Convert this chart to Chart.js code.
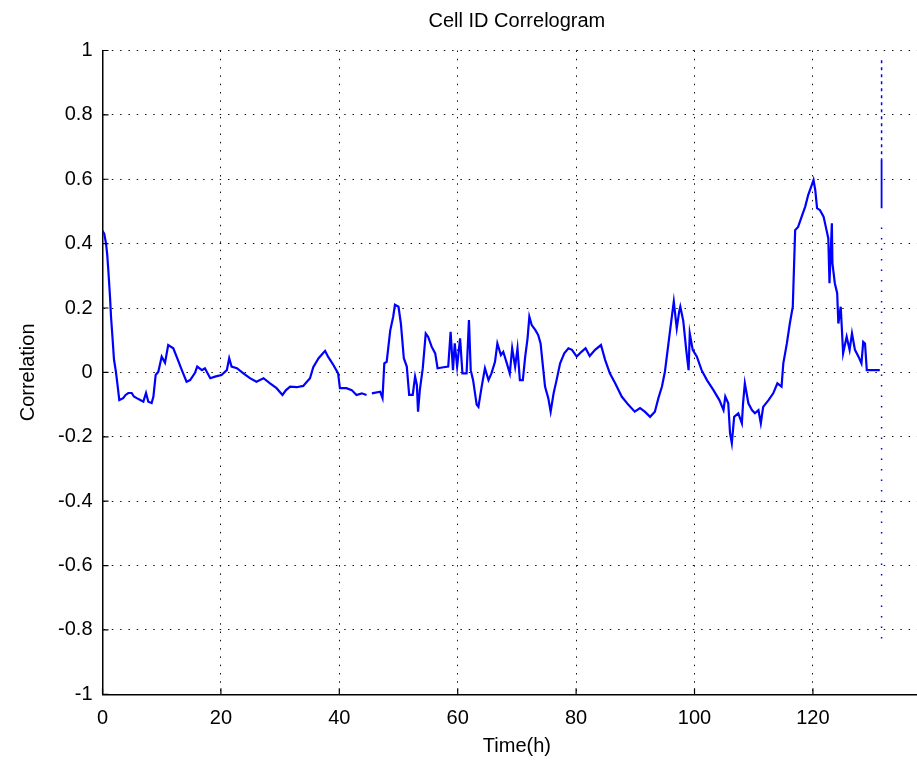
<!DOCTYPE html>
<html>
<head>
<meta charset="utf-8">
<title>Cell ID Correlogram</title>
<script src="https://cdn.jsdelivr.net/npm/chart.js@4.4.1/dist/chart.umd.min.js"></script>
<style>
  html, body { margin: 0; padding: 0; background: #fff; overflow: hidden; }
  #wrap { width: 960px; height: 771px; }
</style>
</head>
<body>
<div id="wrap"><canvas id="corrChart" width="960" height="771"></canvas></div>
<script>
// hours and correlation
var timeH = [0.0, 0.3, 0.6, 0.8, 0.98, 1.27, 1.44, 1.72, 1.94, 2.28, 2.5, 2.84, 3.5, 3.9, 4.36, 4.93, 5.3, 5.78, 6.3, 6.9,
  7.35, 7.74, 8.3, 8.6, 8.98, 9.43, 10.0, 10.56, 11.1, 11.96, 12.6, 13.4, 14.2, 14.8, 15.6, 16.0, 16.8, 17.3, 18.2, 19.0,
  20.1, 21.0, 21.4, 21.8, 22.7, 23.8, 24.9, 26.0, 27.2, 28.3, 29.4, 30.4, 31.0, 31.7, 32.8, 33.9, 35.05, 35.6, 36.5, 37.6,
  38.1, 39.0, 39.8, 40.1, 41.2, 42.1, 42.9, 43.8, 44.6, 45.0, 45.5, 46.9, 47.3, 47.6, 48.0, 48.6, 49.1, 49.4, 50.0, 50.4,
  50.9, 51.4, 51.8, 52.4, 52.8, 53.1, 53.3, 53.6, 54.1, 54.6, 55.0, 55.6, 56.2, 56.6, 57.6, 58.4, 58.8, 59.2, 59.5, 59.9,
  60.4, 60.8, 61.5, 61.9, 62.2, 62.6, 63.2, 63.5, 64.05, 64.6, 65.2, 65.7, 66.3, 66.7, 67.3, 67.7, 68.3, 68.8, 69.2, 69.7,
  70.1, 70.5, 71.0, 71.4, 71.8, 72.1, 72.5, 73.1, 73.6, 74.0, 74.4, 74.75, 75.3, 75.7, 76.2, 76.7, 77.3, 78.0, 78.7, 79.3,
  80.1, 80.9, 81.6, 82.3, 83.2, 84.2, 84.9, 85.7, 86.6, 87.7, 88.8, 89.9, 90.8, 91.6, 92.5, 93.3, 93.9, 94.5, 95.0, 95.6,
  96.1, 96.5, 97.0, 97.4, 97.6, 98.1, 98.6, 99.0, 99.2, 99.7, 100.4, 101.2, 102.1, 103.2, 104.2, 104.9, 105.2, 105.7, 106.0, 106.3,
  106.7, 107.4, 108.0, 108.2, 108.5, 109.1, 109.7, 110.2, 110.8, 111.2, 111.6, 112.5, 113.3, 114.0, 114.7, 115.0, 115.6, 116.1, 116.6, 117.0,
  117.5, 118.1, 118.7, 119.2, 119.8, 120.1, 120.4, 120.7, 121.2, 121.8, 122.3, 122.6, 122.8, 123.2, 123.3, 123.7, 124.1, 124.3, 124.7, 125.1,
  125.7, 126.2, 126.6, 127.1, 127.7, 128.2, 128.5, 128.8, 129.1, 131.3];
var corr = [0.44, 0.43, 0.40, 0.365, 0.318, 0.235, 0.173, 0.10, 0.04, 0.0, -0.033, -0.086, -0.08, -0.07, -0.064, -0.064, -0.075, -0.08, -0.085, -0.091,
  -0.064, -0.091, -0.095, -0.075, -0.008, 0.002, 0.049, 0.03, 0.085, 0.075, 0.045, 0.007, -0.029, -0.024, -0.002, 0.018, 0.007, 0.013, -0.018, -0.013,
  -0.008, 0.007, 0.044, 0.018, 0.013, -0.003, -0.018, -0.029, -0.018, -0.034, -0.049, -0.07, -0.055, -0.044, -0.046, -0.042, -0.018, 0.016, 0.044, 0.067,
  0.049, 0.023, -0.003, -0.049, -0.049, -0.055, -0.07, -0.065, -0.07, null, -0.065, -0.06, -0.08, 0.028, 0.033, 0.13, 0.173, 0.21, 0.204, 0.152,
  0.044, 0.018, -0.07, -0.07, -0.013, -0.039, -0.122, -0.055, 0.013, 0.121, 0.111, 0.08, 0.059, 0.013, 0.016, 0.018, 0.126, 0.007, 0.09, 0.018,
  0.106, -0.003, -0.003, 0.163, 0.007, -0.024, -0.10, -0.107, -0.044, 0.013, -0.024, -0.003, 0.033, 0.09, 0.054, 0.064, 0.028, -0.003, 0.075, 0.018,
  0.075, -0.024, -0.024, 0.049, 0.106, 0.173, 0.147, 0.132, 0.116, 0.09, 0.018, -0.044, -0.08, -0.122, -0.065, -0.024, 0.028, 0.059, 0.075, 0.07,
  0.049, 0.064, 0.075, 0.051, 0.07, 0.085, 0.039, -0.003, -0.034, -0.075, -0.10, -0.122, -0.111, -0.122, -0.138, -0.122, -0.08, -0.044, 0.002, 0.09,
  0.163, 0.22, 0.137, 0.188, 0.204, 0.16, 0.07, 0.007, 0.121, 0.07, 0.049, 0.007, -0.024, -0.055, -0.086, -0.117, -0.075, -0.096, -0.189, -0.22,
  -0.138, -0.127, -0.158, -0.096, -0.034, -0.096, -0.117, -0.127, -0.117, -0.158, -0.107, -0.086, -0.065, -0.034, -0.044, 0.028, 0.09, 0.152, 0.204, 0.442,
  0.452, 0.484, 0.515, 0.551, 0.582, 0.598, 0.566, 0.51, 0.504, 0.484, 0.442, 0.416, 0.277, 0.463, 0.339, 0.277, 0.246, 0.152, 0.204, 0.059,
  0.111, 0.07, 0.121, 0.07, 0.049, 0.028, 0.095, 0.09, 0.007, 0.007];

// the vertical blue trace at the end of the record
var endTime = 131.6;
var endDashed = [0.97, 0.66];
var endSolid = [0.66, 0.51];
var endDotted = [0.45, -0.85];

var xTicks = [0, 20, 40, 60, 80, 100, 120, 140];
var yMin = -1, yMax = 1, yStep = 0.2;

function pts(xs, ys) {
  return xs.map(function(x, i) { return { x: x, y: ys[i] }; });
}

var blue = '#0000ff';
var fontFam = "'Liberation Sans', Arial, Helvetica, sans-serif";

// short inward tick marks like the original plot
var innerTicks = {
  id: 'innerTicks',
  afterDraw: function(chart) {
    var ctx = chart.ctx, a = chart.chartArea;
    var xs = chart.scales.x, ys = chart.scales.y;
    ctx.save();
    ctx.strokeStyle = '#000';
    ctx.lineWidth = 1.2;
    ctx.beginPath();
    ys.ticks.forEach(function(t) {
      var py = ys.getPixelForValue(t.value);
      ctx.moveTo(a.left, py);
      ctx.lineTo(a.left + 6, py);
    });
    xs.ticks.forEach(function(t) {
      var px = xs.getPixelForValue(t.value);
      ctx.moveTo(px, a.bottom);
      ctx.lineTo(px, a.bottom - 6);
    });
    ctx.stroke();
    ctx.restore();
  }
};

const corrChart = new Chart(document.getElementById('corrChart'), {
  type: 'line',
  data: {
    datasets: [{
      label: 'Correlation',
      data: pts(timeH, corr),
      borderColor: blue,
      borderWidth: 2.2,
      pointRadius: 0,
      tension: 0,
      spanGaps: false
    }, {
      data: pts([endTime, endTime], endDashed),
      borderColor: blue,
      borderWidth: 1.5,
      borderDash: [3, 4],
      pointRadius: 0
    }, {
      data: pts([endTime, endTime], endSolid),
      borderColor: blue,
      borderWidth: 1.8,
      pointRadius: 0
    }, {
      data: pts([endTime, endTime], endDotted),
      borderColor: blue,
      borderWidth: 1.5,
      borderDash: [1.5, 9],
      pointRadius: 0
    }]
  },
  options: {
    responsive: false,
    animation: false,
    devicePixelRatio: 1,
    layout: { padding: { left: 0, right: 0, top: 0, bottom: 0 } },
    plugins: {
      legend: { display: false },
      tooltip: { enabled: false },
      title: {
        display: true,
        fullSize: false,
        text: 'Cell ID Correlogram',
        color: '#000',
        font: { family: fontFam, size: 20, weight: 'normal' },
        padding: { top: 9, bottom: 17.5 }
      }
    },
    scales: {
      x: {
        type: 'linear',
        min: 0,
        max: 140,
        afterFit: function(s) { s.height = 76.7; },
        afterBuildTicks: function(s) { s.ticks = xTicks.map(function(v) { return { value: v }; }); },
        grid: { color: '#111', lineWidth: 1, drawTicks: false },
        border: { display: true, color: '#000', width: 1.5, dash: [1.5, 6.8] },
        ticks: {
          // the 140 label sits past the cropped edge in the original
          color: function(c) { return c.tick && c.tick.value === 140 ? 'rgba(0,0,0,0)' : '#000'; },
          padding: 12, maxRotation: 0, font: { family: fontFam, size: 20 }
        },
        title: { display: true, text: 'Time(h)', color: '#000', font: { family: fontFam, size: 20 }, padding: { top: 0, bottom: 13 } }
      },
      y: {
        min: yMin,
        max: yMax,
        afterFit: function(s) { s.width = 102.5; },
        ticks: {
          stepSize: yStep,
          color: '#000',
          padding: 10,
          font: { family: fontFam, size: 20 },
          callback: function(v) { return String(+v.toFixed(1)); }
        },
        grid: { color: '#111', lineWidth: 1, drawTicks: false },
        border: { display: true, color: '#000', width: 1.5, dash: [1.5, 6.8] },
        title: { display: true, text: 'Correlation', color: '#000', font: { family: fontFam, size: 20 }, padding: { top: 16, bottom: 0 } }
      }
    }
  },
  plugins: [innerTicks]
});
</script>
</body>
</html>
